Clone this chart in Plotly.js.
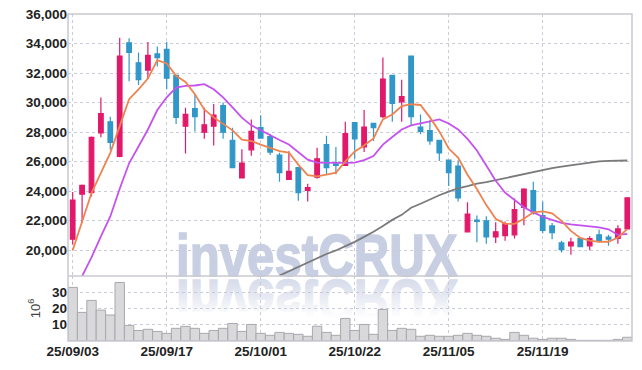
<!DOCTYPE html>
<html><head><meta charset="utf-8">
<script src="https://cdn.plot.ly/plotly-3.0.1.min.js"></script>
<style>
html,body{margin:0;padding:0;background:#fff;}
#wrap{position:relative;width:642px;height:370px;overflow:hidden;}
#chart{position:absolute;left:0;top:0;width:642px;height:370px;}
.wm{position:absolute;left:176px;font-family:"Liberation Sans",Arial,sans-serif;font-weight:bold;font-size:60px;line-height:60px;white-space:nowrap;transform-origin:0 51px;-webkit-text-stroke:1.6px currentColor;}
#wm1{top:226px;color:rgb(200,207,227);transform:scale(0.82,1);}
#wm2{top:228px;color:rgb(214,219,234);transform:scale(0.82,-1);}
#fade{position:absolute;left:0;top:278px;width:642px;height:50px;background:linear-gradient(to bottom,rgba(255,255,255,0) 0%,rgba(255,255,255,0.35) 32%,rgba(255,255,255,1) 80%,rgba(255,255,255,1) 100%);}
</style></head>
<body>
<div id="wrap">
<div class="wm" id="wm1">investCRUX</div>
<div class="wm" id="wm2">investCRUX</div>
<div id="fade"></div>
<div id="chart"></div>
</div>
<script>
const dates = ["25/09/03","25/09/04","25/09/05","25/09/08","25/09/09","25/09/10","25/09/11","25/09/12","25/09/15","25/09/16",
"25/09/17","25/09/18","25/09/19","25/09/22","25/09/23","25/09/24","25/09/25","25/09/26","25/09/29","25/09/30",
"25/10/01","25/10/02","25/10/10","25/10/13","25/10/14","25/10/15","25/10/16","25/10/17","25/10/20","25/10/21",
"25/10/22","25/10/23","25/10/24","25/10/27","25/10/28","25/10/29","25/10/30","25/10/31","25/11/03","25/11/04",
"25/11/05","25/11/06","25/11/07","25/11/10","25/11/11","25/11/12","25/11/13","25/11/14","25/11/17","25/11/18",
"25/11/19","25/11/20","25/11/21","25/11/24","25/11/25","25/11/26","25/11/27","25/11/28","25/12/01","25/12/02"];

const openP = [20750,23800,23900,27950,28700,26350,34050,32700,32200,33300,
33600,31850,28400,29600,28000,28400,29800,27450,24900,26800,
28300,27700,26450,24800,25600,24050,24950,27150,25850,25750,
28650,27000,28600,29050,31850,30050,33150,28350,28100,27450,
26100,25700,21250,22050,22000,20900,21000,21050,22900,24050,
22350,21650,20500,20300,20800,20300,21050,20900,20800,21450];
const highP = [23950,24450,27700,30350,29050,34400,34350,33400,34100,33800,
34100,31850,29650,30550,29650,29900,30000,28300,26850,28850,
29150,27900,26600,26700,25600,24500,26950,27750,27000,28700,
28650,29500,28600,33050,31850,31550,33150,29200,28800,27450,
26150,26100,23250,22350,22300,21900,21950,23500,24200,24650,
23300,21850,20650,20850,20850,20950,21400,21050,21700,23550];
const lowP = [20400,21850,23650,27650,26800,26300,31450,31200,31600,32450,
30900,28550,26550,28050,27550,27100,27550,25600,24900,26400,
27550,26450,24650,24800,23350,23300,24850,25150,25150,25750,
26200,26650,27400,28950,28700,28700,28450,27850,27150,26050,
24350,23300,21250,20550,20450,20500,20650,20800,21700,22400,
21150,20750,19850,19700,20250,20000,20550,20300,20450,21450];
const closeP = [23400,24400,27650,29250,27300,33150,33400,31550,33200,33050,
31650,29000,29200,29050,28500,29150,28000,25600,25900,28050,
27600,26650,25250,25350,23900,24250,26200,25600,25750,27900,
27550,28350,28300,31600,29950,30400,29050,28050,27400,26600,
25250,23550,22450,21950,20900,21250,21800,22750,24150,22600,
21350,21200,20050,20550,20250,20800,20650,20750,21450,23550];

const volume = [33,17.6,25,19,16,36,9.6,6.5,7.2,5.9,
4.7,7.8,9,7.8,4.7,6.5,7.8,10.8,5.9,10.2,
4.7,3.5,5.3,4.7,4.1,2.9,9.1,5.3,3.5,13.9,
6.5,10.2,4.1,19.4,6.5,7.8,7.2,2.9,3.5,2.9,
2.9,3.5,4.7,3.5,2.9,1.7,1.0,5.3,3.5,1.7,
1.0,1.7,1.7,1.0,0.4,0.4,0.4,0.4,1.0,2.3];

const maShort = [20000,21880,23880,25240,26600,28410,30230,30900,31630,32880,
32650,31810,31400,30570,29540,29000,28590,28120,27500,27400,
27160,26960,26720,26620,25800,25090,25010,25120,25260,26000,
26690,27100,27570,28860,29200,29770,29890,29840,29000,28050,
26890,26280,25120,24150,23060,22130,21790,21790,22130,22570,
22630,22500,21990,21310,20840,20650,20570,20580,20870,21430];
const maMid = [null,18250,19520,20950,22290,24170,25890,27030,28180,29500,
30360,31020,31130,31160,31250,30900,30360,29680,28980,28460,
28120,27780,27470,27160,26620,26140,25940,25920,25920,25920,
25940,26110,26380,27160,27670,28180,28460,28590,28760,28860,
28590,28180,27540,26760,25740,24710,23900,23390,22910,22570,
22270,22060,21860,21760,21690,21630,21550,21420,21040,21110];
const maLong = [null,null,null,null,null,null,null,null,null,null,
null,null,null,null,null,null,null,null,null,null,
null,null,18290,18590,18860,19200,19480,19750,19990,20260,
20570,20910,21250,21650,22060,22400,22880,23150,23460,23730,
23970,24200,24340,24510,24610,24750,24920,25060,25190,25330,
25460,25570,25670,25770,25850,25940,26020,26050,26080,26080];

const tickIdx = [0,10,20,30,40,50];
const tickVals = tickIdx.map(i => dates[i]);

const upColor = "#e2196a", downColor = "#3197c9";
const font = '"Liberation Sans",Arial,sans-serif';
const gridColor = "#c9cbd9";
const tf = {family:font,size:13.5,color:"#222",weight:"bold"};

const traces = [
 {type:"candlestick", x:dates, open:openP, high:highP, low:lowP, close:closeP,
  xaxis:"x", yaxis:"y",
  increasing:{line:{color:upColor,width:1.2},fillcolor:upColor},
  decreasing:{line:{color:downColor,width:1.2},fillcolor:downColor},
  whiskerwidth:0, hoverinfo:"skip", showlegend:false},
 {type:"scatter", mode:"lines", x:dates, y:maLong, xaxis:"x", yaxis:"y",
  line:{color:"#7a7a7a",width:1.8}, hoverinfo:"skip", showlegend:false},
 {type:"scatter", mode:"lines", x:dates, y:maMid, xaxis:"x", yaxis:"y",
  line:{color:"#c552ee",width:1.8}, hoverinfo:"skip", showlegend:false},
 {type:"scatter", mode:"lines", x:dates, y:maShort, xaxis:"x", yaxis:"y",
  line:{color:"#ef8350",width:1.8}, hoverinfo:"skip", showlegend:false},
 {type:"bar", x:dates, y:volume, xaxis:"x", yaxis:"y2",
  marker:{color:"#d9d9db",line:{color:"#a8a8ad",width:1}},
  hoverinfo:"skip", showlegend:false}
];

const split = 65/327;
const layout = {
 width:642, height:370,
 margin:{l:68,r:10,t:14,b:29},
 paper_bgcolor:"rgba(0,0,0,0)", plot_bgcolor:"rgba(0,0,0,0)",
 showlegend:false, bargap:0,
 font:{family:font,color:"#222"},
 xaxis:{type:"category", anchor:"y2", range:[-0.5,59.5], rangeslider:{visible:false},
  tickmode:"array", tickvals:tickVals, ticktext:tickVals,
  showgrid:true, gridcolor:gridColor, griddash:"dot", gridwidth:1,
  ticks:"", showline:false, zeroline:false, tickfont:tf},
 yaxis:{domain:[split,1], range:[18260,36000], dtick:2000, tick0:0, tickformat:",d",
  showgrid:true, gridcolor:gridColor, griddash:"dot", gridwidth:1, zeroline:false,
  ticks:"", showline:false, tickfont:tf},
 yaxis2:{domain:[0,split], range:[0,40], tickvals:[10,20,30],
  showgrid:true, gridcolor:gridColor, griddash:"dot", gridwidth:1, zeroline:false,
  ticks:"", showline:false,
  title:{text:"10<sup>6</sup>", standoff:8, font:{family:"Liberation Sans, sans-serif",size:13,color:"#444"}},
  tickfont:tf},
 shapes:[
  {type:"rect", xref:"paper", yref:"paper", x0:0, x1:1, y0:0, y1:1, line:{color:"#c8c8d0",width:1.5}, layer:"above"},
  {type:"line", xref:"paper", yref:"paper", x0:0, x1:1, y0:split, y1:split, line:{color:"#c8c8d0",width:1.5}, layer:"above"}
 ]
};

Plotly.newPlot("chart", traces, layout, {displayModeBar:false, staticPlot:true});
</script>
</body></html>
